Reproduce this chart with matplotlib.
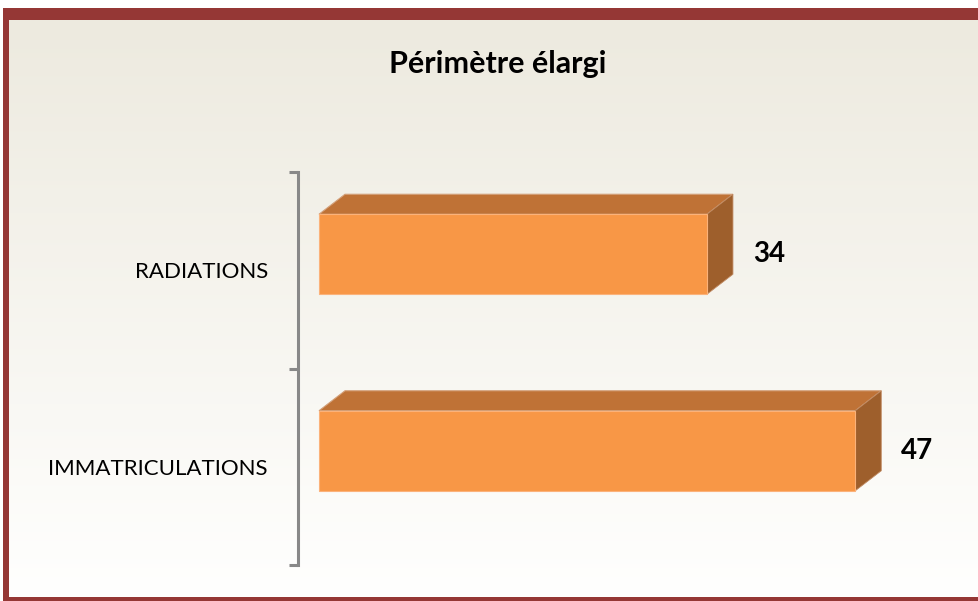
import numpy as np
import matplotlib
matplotlib.use("Agg")
import matplotlib.pyplot as plt
from matplotlib.patches import Rectangle, Polygon

# ---------------- data ----------------
categories = ["IMMATRICULATIONS", "RADIATIONS"]
values = [47, 34]
title = "Périmètre élargi"

# ---------------- style ----------------
W, H = 979, 601
FONT = "Lato"
front_c = "#F89746"
top_c = "#BF7236"
side_c = "#9E5F2C"
border_c = "#953735"
axis_c = "#888888"

fig = plt.figure(figsize=(W / 100, H / 100), dpi=100)
fig.patch.set_facecolor("white")


def fx(px):
    return px / W


def fy(py):
    return 1 - py / H


# background gradient inside the frame
bg = fig.add_axes([fx(9), fy(597), fx(979 - 9), (597 - 20) / H], zorder=-10)
c_top = np.array([237, 234, 223]) / 255.0
c_bot = np.array([255, 255, 254]) / 255.0
t = np.linspace(0, 1, 256)[:, None, None]
grad = c_top[None, None, :] * (1 - t) + c_bot[None, None, :] * t
bg.imshow(grad, aspect="auto", extent=[0, 1, 0, 1], origin="upper")
bg.set_axis_off()

# frame
for (x0, y0, x1, y1) in [(3, 8, 979, 20), (3, 8, 9, 601), (3, 597, 979, 601)]:
    fig.add_artist(Rectangle((fx(x0), fy(y1)), fx(x1 - x0), (y1 - y0) / H,
                             transform=fig.transFigure, facecolor=border_c,
                             edgecolor="none", zorder=-5))

# main axes
L, R, T, B = 298, 960, 172, 565
ax = fig.add_axes([fx(L), fy(B), fx(R - L), (B - T) / H])
ax.patch.set_alpha(0)
ppx = 11.41                     # pixels per value unit
ppy = (B - T) / 2.0             # pixels per category unit
x_lo = -(319 - L) / ppx
ax.set_xlim(x_lo, x_lo + (R - L) / ppx)
ax.set_ylim(-0.5, 1.5)

DX = 26 / ppx
DY = 20 / ppy
bh = 80 / ppy
off = 16 / ppy

for i, v in enumerate(values):
    yc = i + off
    y0, y1 = yc - bh / 2, yc + bh / 2
    ax.barh(yc, v, height=bh, left=0, color=front_c, edgecolor="#FBB27A",
            linewidth=0.8, zorder=3)
    ax.add_patch(Polygon([(0, y1), (v, y1), (v + DX, y1 + DY), (DX, y1 + DY)],
                         closed=True, facecolor=top_c, edgecolor="#D3A07A",
                         linewidth=0.8, zorder=2))
    ax.add_patch(Polygon([(v, y0), (v + DX, y0 + DY), (v + DX, y1 + DY), (v, y1)],
                         closed=True, facecolor=side_c, edgecolor="#C08A62",
                         linewidth=0.6, zorder=2))
    ax.annotate(str(v), xy=(v + DX, yc), xytext=(20 * 0.72, 0),
                textcoords="offset points", ha="left", va="center",
                fontsize=20, fontweight="bold", family=FONT, color="black")

for s in ["top", "right", "bottom"]:
    ax.spines[s].set_visible(False)
ax.spines["left"].set_color(axis_c)
ax.spines["left"].set_linewidth(2.2)
ax.set_xticks([])
ax.set_yticks([-0.5, 0.5, 1.5])
ax.set_yticklabels([])
ax.tick_params(axis="y", which="major", length=6.5, width=2.2, color=axis_c,
               direction="out")
ax.set_yticks([0, 1], minor=True)
ax.set_yticklabels(categories, minor=True, fontsize=16, family=FONT,
                   color="black")
ax.tick_params(axis="y", which="minor", length=0, pad=21.6)

fig.text(fx(498), fy(73), title, ha="center", va="baseline", fontsize=22,
         fontweight="bold", family=FONT, color="black")

fig.savefig("out.png", dpi=100)
